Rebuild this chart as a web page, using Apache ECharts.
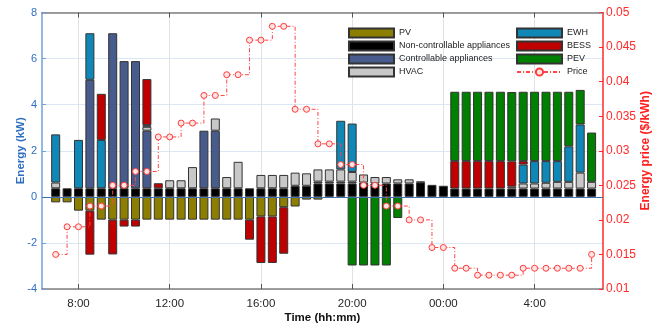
<!DOCTYPE html>
<html>
<head>
<meta charset="utf-8">
<script src="https://cdn.jsdelivr.net/npm/echarts@6/dist/echarts.min.js"></script>
<style>
  html, body { margin: 0; padding: 0; background: #fff; }
  #chart { width: 664px; height: 329px; }
</style>
</head>
<body>
<div id="chart"></div>
<script>
// half-hour slots from 7:00 to 6:30 next morning, in hours (24 = midnight)
const hours = [];
for (let i = 0; i < 48; i++) hours.push(7 + i * 0.5);

const tickHours = [8, 12, 16, 20, 24, 28];
const tickLabels = ['8:00', '12:00', '16:00', '20:00', '00:00', '4:00'];

// energy per slot (kW), negative = supplied
const pv = [-0.24, -0.24, -0.6, -0.6, -0.99, -0.99, -0.99, -0.99, -0.99, -0.99, -0.99, -0.99,
  -0.99, -0.99, -0.99, -0.99, -0.99, -0.99, -0.85, -0.85, -0.45, -0.42, -0.12, -0.12,
  -0.05, 0, 0, 0, 0, 0, 0, 0, 0, 0, 0, 0,
  0, 0, 0, 0, 0, 0, 0, 0, 0, 0, -0.05, -0.05];
const nonControllable = [0.37, 0.37, 0.37, 0.37, 0.37, 0.37, 0.37, 0.37, 0.37, 0.37, 0.37, 0.37,
  0.37, 0.37, 0.37, 0.37, 0.37, 0.37, 0.37, 0.37, 0.37, 0.48, 0.48, 0.58,
  0.58, 0.58, 0.58, 0.62, 0.58, 0.58, 0.58, 0.58, 0.63, 0.52, 0.48, 0.36,
  0.36, 0.36, 0.36, 0.36, 0.36, 0.36, 0.36, 0.36, 0.36, 0.36, 0.36, 0.36];
const controllable = [0, 0, 0, 4.71, 0, 6.73, 5.52, 5.52, 2.5, 0, 0, 0,
  0, 2.5, 2.5, 0, 0, 0, 0, 0, 0, 0, 0, 0.08,
  0.08, 0.08, 0.08, 0, 0, 0, 0, 0, 0, 0, 0, 0,
  0, 0, 0, 0, 0, 0, 0, 0, 0, 0, 0, 0];
const hvac = [0.25, 0, 0, 0, 0, 0, 0, 0, 0.17, 0, 0.35, 0.35,
  0.92, 0, 0.53, 0.49, 1.15, 0, 0.58, 0.58, 0.58, 0.57, 0.54, 0.53,
  0.53, 0.53, 0.42, 0.35, 0.28, 0.28, 0.18, 0.18, 0.03, 0, 0, 0,
  0, 0, 0, 0, 0.08, 0.22, 0.22, 0.25, 0.29, 0.29, 0.69, 0.29];
const ewh = [2.09, 0, 2.1, 2.02, 2.1, 0, 0, 0, 0.07, 0, 0, 0,
  0, 0, 0, 0, 0, 0, 0, 0, 0, 0, 0, 0,
  0, 2.11, 2.1, 0, 0, 0, 0, 0, 0, 0, 0, 0,
  0, 0, 0, 0, 0, 0.82, 0.97, 0.94, 0.9, 1.54, 2.09, 0];
const bess = [0, 0, 0, -1.91, 2.0, -1.51, -0.3, -0.3, 2.0, 0.22, 0, 0,
  0, 0, 0, 0, 0, -0.87, -2.02, -2.02, -2.02, 0, 0, 0,
  0, 0, 0, 0, 0, 0, 0, 0, 0, 0, 0, 1.19,
  1.19, 1.19, 1.19, 1.19, 1.1, 0.15, 0, 0, 0, 0, 0, 0];
const pev = [0, 0, 0, 0, 0, 0, 0, 0, 0, 0, 0, 0,
  0, 0, 0, 0, 0, 0, 0, 0, 0, 0, 0, 0,
  0, 0, -2.98, -2.98, -2.98, -2.98, -0.92, 0, 0, 0, 0, 3.01,
  3.01, 3.01, 3.01, 3.01, 3.01, 3.01, 3.01, 3.01, 3.01, 2.37, 1.5, 2.14];

// energy price ($/kWh)
const price = [0.015, 0.019, 0.019, 0.022, 0.022, 0.025, 0.025, 0.027, 0.027, 0.032, 0.032, 0.034,
  0.034, 0.038, 0.038, 0.041, 0.041, 0.046, 0.046, 0.048, 0.048, 0.036, 0.036, 0.031,
  0.031, 0.028, 0.028, 0.025, 0.025, 0.022, 0.022, 0.020, 0.020, 0.016, 0.016, 0.013,
  0.013, 0.012, 0.012, 0.012, 0.012, 0.013, 0.013, 0.013, 0.013, 0.013, 0.013, 0.015];

const FONT = "'Liberation Sans', Arial, sans-serif";

// value first, time second: ECharts stacks the first numeric dimension,
// so keep energy in column 0 and map the time column to x
const barSeries = (name, vals, color) => ({
  name: name,
  type: 'bar',
  stack: 'energy',
  barWidth: 9,
  encode: { x: 1, y: 0 },
  itemStyle: { color: color, borderColor: '#333', borderWidth: 1 },
  data: vals.map((v, i) => [v === 0 ? null : v, hours[i]])
});

const chart = echarts.init(document.getElementById('chart'), null, { renderer: 'canvas' });

const legendBase = {
  orient: 'vertical',
  top: 27,
  padding: 0,
  itemWidth: 45,
  itemHeight: 9,
  itemGap: 1,
  selectedMode: false,
  textStyle: { fontSize: 9, color: '#222', lineHeight: 12 }
};

const xBase = {
  type: 'value',
  min: 6.4,
  max: 31.0,
  axisLine: { show: true, onZero: false, lineStyle: { color: '#7f7f7f', width: 1.5 } },
  axisTick: { show: true, inside: true, length: 5, customValues: tickHours, lineStyle: { color: '#555' } }
};

const option = {
  animation: false,
  textStyle: { fontFamily: FONT },
  grid: { left: 42, right: 61, top: 12.5, bottom: 36 },
  legend: [
    Object.assign({}, legendBase, {
      left: 348,
      data: ['PV', 'Non-controllable appliances', 'Controllable appliances', 'HVAC'].map(n => ({ name: n, icon: 'rect' }))
    }),
    Object.assign({}, legendBase, {
      left: 516,
      data: [{ name: 'EWH', icon: 'rect' }, { name: 'BESS', icon: 'rect' }, { name: 'PEV', icon: 'rect' }, { name: 'Price' }]
    })
  ],
  xAxis: [
    Object.assign({}, xBase, {
      position: 'bottom',
      axisLabel: {
        customValues: tickHours,
        formatter: v => tickLabels[tickHours.indexOf(v)],
        color: '#262626', fontSize: 11.5, margin: 9
      },
      splitLine: { show: true, lineStyle: { color: '#e2e2e2' } },
      name: 'Time (hh:mm)',
      nameLocation: 'middle',
      nameGap: 23,
      nameMoveOverlap: false,
      nameTextStyle: { fontWeight: 'bold', fontSize: 11.5, color: '#111' }
    }),
    Object.assign({}, xBase, {
      position: 'top',
      axisLabel: { show: false },
      splitLine: { show: false }
    })
  ],
  yAxis: [
    {
      type: 'value',
      min: -4,
      max: 8,
      interval: 2,
      axisLine: { show: true, lineStyle: { color: '#6fa0dd', width: 1.5 } },
      axisTick: { show: true, inside: true, length: 4, lineStyle: { color: '#6fa0dd' } },
      axisLabel: { color: '#2f6fc2', fontSize: 11, margin: 5 },
      splitLine: { show: true, lineStyle: { color: '#dbe7f4' } },
      name: 'Energy (kW)',
      nameLocation: 'middle',
      nameGap: 15,
      nameMoveOverlap: false,
      nameTextStyle: { fontWeight: 'bold', fontSize: 11.5, color: '#2f6fc2' }
    },
    {
      type: 'value',
      position: 'right',
      min: 0.01,
      max: 0.05,
      interval: 0.005,
      axisLine: { show: true, lineStyle: { color: '#ff2a2a', width: 1.5 } },
      axisTick: { show: true, inside: true, length: 4, lineStyle: { color: '#ff2a2a' } },
      axisLabel: { color: '#ff2a2a', fontSize: 12, margin: 3, formatter: v => String(+v.toFixed(3)) },
      splitLine: { show: false },
      name: 'Energy price ($/kWh)',
      nameLocation: 'middle',
      nameGap: 37,
      nameMoveOverlap: false,
      nameTextStyle: { fontWeight: 'bold', fontSize: 12, color: '#ff2020' }
    }
  ],
  series: [
    barSeries('PV', pv, '#8c7e00'),
    Object.assign(barSeries('Non-controllable appliances', nonControllable, '#000000'), {
      markLine: {
        silent: true,
        symbol: 'none',
        label: { show: false },
        lineStyle: { color: '#3e6fb0', width: 1, type: 'solid' },
        data: [{ yAxis: 0 }]
      }
    }),
    barSeries('Controllable appliances', controllable, '#475b8d'),
    barSeries('HVAC', hvac, '#c8c8c8'),
    barSeries('EWH', ewh, '#0f88b8'),
    barSeries('BESS', bess, '#c00000'),
    barSeries('PEV', pev, '#008000'),
    {
      name: 'Price',
      type: 'line',
      yAxisIndex: 1,
      step: 'end',
      symbol: 'circle',
      symbolSize: 6,
      z: 5,
      itemStyle: { color: '#ffe4e4', borderColor: '#ff3b3b', borderWidth: 1 },
      lineStyle: { color: '#ff4545', width: 1, type: [4, 2, 1, 2] },
      data: price.map((v, i) => [hours[i], v])
    }
  ]
};

chart.setOption(option);
</script>
</body>
</html>
